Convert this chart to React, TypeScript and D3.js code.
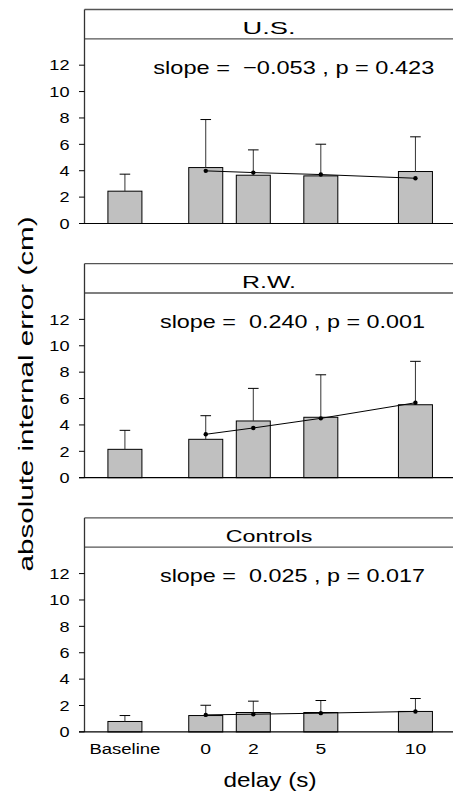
import React from "react";
import * as d3 from "d3";

const categories = ["Baseline", "0", "2", "5", "10"];
const slots = [1.7, 5.1, 7.1, 9.94, 13.92];
const panels = ["U.S.", "R.W.", "Controls"];
const slopeTexts = ["slope =  \u22120.053 , p = 0.423", "slope =  0.240 , p = 0.001", "slope =  0.025 , p = 0.017"];
const barMeans = [
  [2.45, 4.24, 3.66, 3.61, 3.94],
  [2.15, 2.91, 4.3, 4.58, 5.53],
  [0.79, 1.24, 1.47, 1.47, 1.55],
];
const errorTops = [
  [3.74, 7.88, 5.58, 6.01, 6.57],
  [3.59, 4.7, 6.77, 7.8, 8.82],
  [1.24, 2.02, 2.33, 2.38, 2.53],
];
const fitPoints = [
  [3.99, 3.86, 3.71, 3.43],
  [3.29, 3.77, 4.5, 5.68],
  [1.29, 1.34, 1.42, 1.55],
];
const yTicks = [0, 2, 4, 6, 8, 10, 12];

const FONT = "'Liberation Sans', Arial, Helvetica, sans-serif";

function SText(props: {
  x: number; y: number; size: number; sx?: number; len?: number; anchor?: string; rotate?: number; children: string;
}) {
  const { x, y, size, sx = 1, len, anchor = "start", rotate = 0, children } = props;
  return (
    <text
      transform={`translate(${x},${y}) rotate(${rotate}) scale(${sx},1)`}
      fontSize={size}
      fontFamily={FONT}
      textAnchor={anchor}
      fill="#000"
      textLength={len}
      lengthAdjust={len ? "spacingAndGlyphs" : undefined}
      style={{ whiteSpace: "pre" }}
    >
      {children}
    </text>
  );
}

export default function App() {
  const W = 453, H = 794;
  const left = 84.5, right = 453;
  const x = d3.scaleLinear().domain([0, 15.5]).range([left, right]);
  const barW = x(1.43) - x(0);
  const top0 = 9.5, spacing = 254.2, headerH = 29.3, plotH = 184.7;
  const headerLens = [53, 54, 86.7];
  const slopeX = [153.3, 160, 160];
  const slopeLens = [281, 265, 265];
  const line = d3.line<number>();

  return (
    <svg width={W} height={H} style={{ position: "absolute", left: 0, top: 0, background: "#fff" }}>
      <rect x={0} y={0} width={W} height={H} fill="#fff" />
      {panels.map((name, pi) => {
        const top = top0 + pi * spacing;
        const y = d3.scaleLinear().domain([0, 14]).range([top + headerH + plotH, top + headerH]);
        const pts: [number, number][] = fitPoints[pi].map((v, i) => [x(slots[i + 1]), y(v)]);
        return (
          <g key={name}>
            <line x1={left} x2={right} y1={top} y2={top} stroke="#555" strokeWidth={1.3} />
            <line x1={left} x2={right} y1={top + headerH} y2={top + headerH} stroke="#555" strokeWidth={1.3} />
            <SText x={269} y={top + 24.3} size={17} anchor="middle" len={headerLens[pi]}>{name}</SText>
            <SText x={slopeX[pi]} y={top + 64.5} size={18.5} len={slopeLens[pi]}>{slopeTexts[pi]}</SText>
            {barMeans[pi].map((v, i) => (
              <rect key={"b" + i} x={x(slots[i]) - barW / 2} y={y(v)} width={barW} height={y(0) - y(v)}
                fill="#c0c0c0" stroke="#000" strokeWidth={1} />
            ))}
            {errorTops[pi].map((v, i) => (
              <g key={"e" + i}>
                <line x1={x(slots[i])} x2={x(slots[i])} y1={y(barMeans[pi][i])} y2={y(v)} stroke="#333" strokeWidth={1} />
                <line x1={x(slots[i]) - 5.3} x2={x(slots[i]) + 5.3} y1={y(v)} y2={y(v)} stroke="#000" strokeWidth={1} />
              </g>
            ))}
            <path d={line(pts) || ""} fill="none" stroke="#000" strokeWidth={1} />
            {pts.map((p, i) => (
              <circle key={"p" + i} cx={p[0]} cy={p[1]} r={2.2} fill="#000" />
            ))}
            <line x1={left} x2={left} y1={top} y2={y(0)} stroke="#333" strokeWidth={1.3} />
            <line x1={left - 5.5} x2={right} y1={y(0)} y2={y(0)} stroke="#000" strokeWidth={1.2} />
            {yTicks.map((t) => (
              <g key={"t" + t}>
                <line x1={left - 5.5} x2={left} y1={y(t)} y2={y(t)} stroke="#000" strokeWidth={1} />
                <SText x={69.5} y={y(t) + 5.2} size={14.5} sx={1.25} anchor="end">{String(t)}</SText>
              </g>
            ))}
            {pi === panels.length - 1 &&
              categories.map((c, i) => (
                <SText key={"c" + i} x={x(slots[i])} y={y(0) + 22} size={15.5} anchor="middle"
                  len={c === "Baseline" ? 71 : undefined} sx={c === "Baseline" ? 1 : 1.25}>{c}</SText>
              ))}
          </g>
        );
      })}
      <SText x={270} y={786.5} size={21} anchor="middle" len={93}>delay (s)</SText>
      <SText x={32.5} y={394} size={21} anchor="middle" rotate={-90} len={355}>absolute internal error (cm)</SText>
    </svg>
  );
}
